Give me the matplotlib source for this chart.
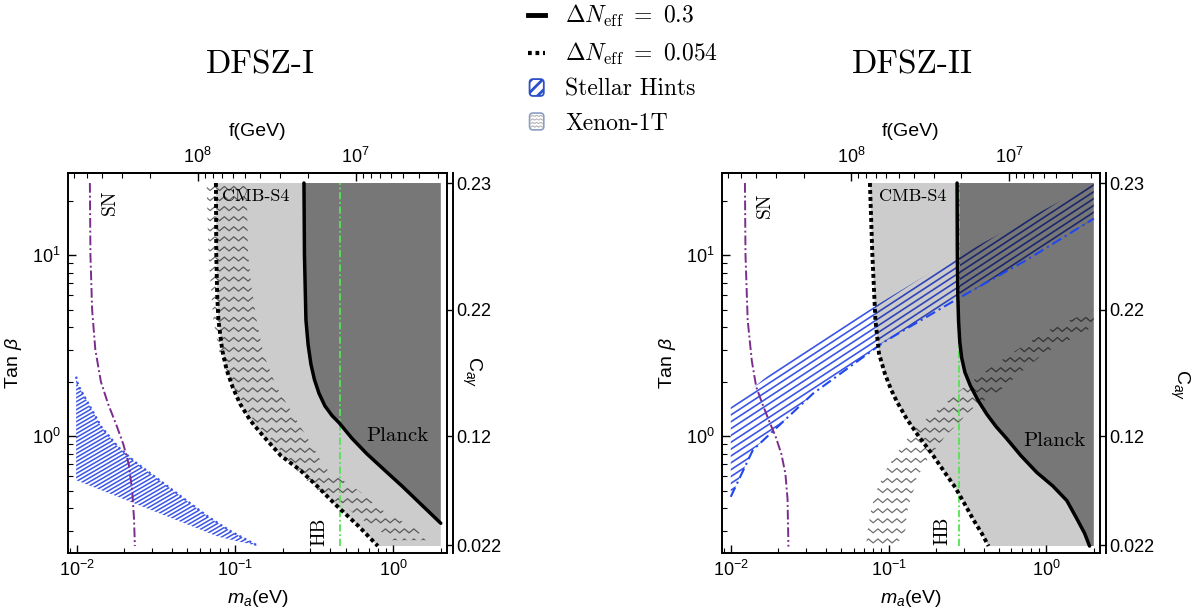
import numpy as np
import matplotlib
matplotlib.use('Agg')
import matplotlib.pyplot as plt
from matplotlib.patches import Polygon, FancyBboxPatch, Patch
from matplotlib.collections import LineCollection
from matplotlib.lines import Line2D
from matplotlib.legend_handler import HandlerBase
from matplotlib.ticker import NullLocator, FixedLocator

### STYLE ###
plt.rcParams['font.family'] = 'Liberation Sans'
plt.rcParams['mathtext.fontset'] = 'custom'
plt.rcParams['mathtext.rm'] = 'Liberation Sans'
plt.rcParams['mathtext.it'] = 'Liberation Sans:italic'
plt.rcParams['mathtext.bf'] = 'Liberation Sans:bold'
plt.rcParams['hatch.linewidth'] = 2.0

### DATA ###
# common plot range
m_range = [0.01, 2.0]
tan_range = [0.247, 25.0]
f_scale = 5.8e6          # f(GeV) = f_scale / m_a(eV)

# tick positions
m_major = [0.01, 0.1, 1.0]
tan_major = [1.0, 10.0]
f_major = [1e8, 1e7]
f_minor = [3e6, 4e6, 5e6, 6e6, 7e6, 8e6, 9e6, 2e7, 3e7, 4e7, 5e7, 6e7, 7e7, 8e7, 9e7, 2e8, 3e8, 4e8, 5e8, 6e8]

# right axis C_agamma ticks (placed at tan beta)
c_tick_tan = [0.25, 1.0, 5.0, 25.0]
c_tick_lab = ['0.022', '0.12', '0.22', '0.23']

# DFSZ-I
planck1_m = [0.273, 0.275, 0.281, 0.29, 0.302, 0.318, 0.34, 0.37, 0.41, 0.457, 0.55, 0.68, 0.88, 1.15, 1.5, 2.0]
planck1_t = [25.0, 10.0, 4.37, 3.2, 2.5, 2.05, 1.72, 1.47, 1.3, 1.18, 0.97, 0.80, 0.65, 0.525, 0.42, 0.33]
cmb1_m = [0.0758, 0.0762, 0.0772, 0.0786, 0.083, 0.0886, 0.097, 0.1076, 0.125, 0.151, 0.195, 0.258, 0.33, 0.43, 0.60, 0.80]
cmb1_t = [25.0, 10.0, 6.0, 4.37, 3.0, 2.32, 1.85, 1.51, 1.22, 1.0, 0.78, 0.649, 0.53, 0.42, 0.32, 0.247]
sn1_m = [0.0121, 0.0122, 0.0125, 0.0131, 0.0142, 0.0158, 0.0178, 0.0197, 0.0213, 0.0224, 0.023, 0.0233]
sn1_t = [25.0, 10.0, 5.0, 3.0, 2.0, 1.5, 1.15, 0.9, 0.7, 0.5, 0.35, 0.247]
hb1_m = 0.46
stellar1_m = [0.0099, 0.0102, 0.0118, 0.0143, 0.0182, 0.0233, 0.0312, 0.0459, 0.0678, 0.0952, 0.1404,
              0.0784, 0.0379, 0.0182, 0.0099]
stellar1_t = [2.13, 1.91, 1.52, 1.125, 0.873, 0.721, 0.596, 0.462, 0.358, 0.296, 0.247,
              0.278, 0.358, 0.462, 0.571]
xenon1_m = [0.0662, 0.0679, 0.073, 0.080, 0.0976, 0.1306, 0.2018, 0.23, 0.27, 0.31, 0.38, 0.51, 0.59, 0.77, 0.916, 0.95,
            1.64, 1.34, 1.0, 0.79, 0.68, 0.56, 0.44, 0.36, 0.33, 0.245, 0.183, 0.151, 0.137, 0.127, 0.121, 0.1185]
xenon1_t = [25.0, 10.2, 4.37, 2.86, 1.87, 1.225, 0.80, 0.681, 0.596, 0.525, 0.462, 0.407, 0.358, 0.316, 0.278, 0.266,
            0.266, 0.316, 0.358, 0.407, 0.462, 0.525, 0.596, 0.681, 0.80, 1.225, 1.87, 2.86, 4.37, 6.68, 10.2, 25.0]

# DFSZ-II
planck2_m = [0.272, 0.273, 0.275, 0.278, 0.283, 0.291, 0.305, 0.33, 0.37, 0.42, 0.48, 0.56, 0.69, 0.87, 1.10, 1.35, 1.58, 1.75, 1.88]
planck2_t = [25.0, 10.0, 6.0, 4.3, 3.3, 2.7, 2.25, 1.9, 1.57, 1.32, 1.13, 0.97, 0.78, 0.63, 0.53, 0.44, 0.343, 0.29, 0.247]
cmb2_m = [0.0762, 0.079, 0.0826, 0.087, 0.095, 0.104, 0.113, 0.13, 0.155, 0.19, 0.23, 0.265, 0.30, 0.345, 0.39, 0.43]
cmb2_t = [25.0, 10.0, 4.37, 2.86, 2.2, 1.8, 1.55, 1.25, 1.0, 0.79, 0.62, 0.52, 0.43, 0.345, 0.29, 0.247]
sn2_m = [0.0123, 0.0124, 0.0128, 0.0136, 0.0145, 0.0159, 0.0174, 0.0192, 0.0209, 0.0222, 0.0229, 0.0232]
sn2_t = [25.0, 10.0, 4.37, 2.6, 1.87, 1.5, 1.226, 1.0, 0.80, 0.62, 0.45, 0.245]
hb2_m = 0.28
stellar2_low_m = [0.01, 0.0138, 0.0333, 0.094, 0.265, 0.748, 2.0]
stellar2_low_t = [0.462, 0.837, 1.72, 3.32, 5.64, 9.38, 15.9]
stellar2_up_m = [0.01, 0.0232, 0.0689, 0.239, 2.0]
stellar2_up_t = [1.45, 2.69, 4.76, 9.18, 25.0]
xenon2_m = [0.0727, 0.0727, 0.0782, 0.0861, 0.0995, 0.121, 0.151, 0.218, 0.305, 0.472, 0.732, 1.19, 2.0,
            2.0, 1.31, 0.98, 0.664, 0.548, 0.451, 0.353, 0.305, 0.264, 0.228, 0.206, 0.179, 0.170, 0.151,
            0.147, 0.140, 0.1335, 0.130, 0.127, 0.105]
xenon2_t = [0.246, 0.279, 0.409, 0.528, 0.681, 0.878, 1.13, 1.46, 1.88, 2.48, 3.20, 4.13, 4.93,
            4.03, 3.29, 2.89, 2.19, 1.88, 1.66, 1.46, 1.29, 1.13, 1.0, 0.878, 0.773, 0.681, 0.600,
            0.528, 0.465, 0.409, 0.360, 0.279, 0.246]

SERIF = 'cmr10'
BLUE = '#3b55e6'


### HELPERS ###
def clip_poly(ax, xs, ys):
    p = Polygon(np.column_stack([xs, ys]), closed=True, fc='none', ec='none', transform=ax.transData)
    ax.add_patch(p)
    return p


def hatch(ax, xs, ys, angle, step, color, lw):
    # parallel lines in axes coords, clipped to the region
    clip = clip_poly(ax, xs, ys)
    slope = np.tan(np.radians(angle))
    segs = [[(0, c), (1, c + slope)] for c in np.arange(-1.2, 1.2, step)]
    lc = LineCollection(segs, colors=color, linewidths=lw, transform=ax.transAxes, zorder=1)
    lc.set_clip_path(clip)
    ax.add_collection(lc, autolim=False)


def zigzag(ax, xs, ys, color='#707070', lw=0.9):
    # wavy texture for the Xenon-1T region
    clip = clip_poly(ax, xs, ys)
    xx = np.arange(0, 1.01, 0.0125)
    bump = 0.0105 * (np.arange(len(xx)) % 2)
    segs = [np.column_stack([xx, r + bump]) for r in np.arange(0, 1, 0.0265)]
    lc = LineCollection(segs, colors=color, linewidths=lw, transform=ax.transAxes, zorder=1)
    lc.set_clip_path(clip)
    ax.add_collection(lc, autolim=False)


def setup_axes(ax):
    ax.set_xscale('log')
    ax.set_yscale('log')
    ax.set_xlim(0.0088, 2.19)
    ax.set_ylim(0.226, 28.4)
    ax.xaxis.set_major_locator(FixedLocator(m_major))
    ax.yaxis.set_major_locator(FixedLocator(tan_major))
    ax.set_axisbelow(False)
    ax.tick_params(which='both', direction='in', top=False, right=False, labelsize=13, pad=5)
    ax.tick_params(which='major', length=6, width=1.0)
    ax.tick_params(which='minor', length=3.5, width=0.8)
    for s in ax.spines.values():
        s.set_linewidth(1.4)
    ax.set_xlabel('$m_a$(eV)', fontsize=14, labelpad=6)
    ax.set_ylabel(r'Tan $\beta$', fontsize=14, labelpad=6)

    top = ax.secondary_xaxis('top', functions=(lambda m: f_scale / m, lambda f: f_scale / f))
    top.set_xticks(f_major)
    top.set_xticks(f_minor, minor=True)
    top.tick_params(which='both', direction='in', labelsize=13, pad=4)
    top.tick_params(which='major', length=6, width=1.0)
    top.tick_params(which='minor', length=3.5, width=0.8)
    top.spines['top'].set_linewidth(1.4)
    top.set_xlabel('f(GeV)', fontsize=14, labelpad=8)

    rax = ax.twinx()
    rax.set_yscale('log')
    rax.set_ylim(ax.get_ylim())
    rax.set_yticks(c_tick_tan)
    rax.set_yticklabels(c_tick_lab)
    rax.yaxis.set_minor_locator(NullLocator())
    rax.tick_params(axis='y', direction='in', length=5, width=1.0, labelsize=13, pad=3)
    for s in ['left', 'top', 'bottom']:
        rax.spines[s].set_visible(False)
    rax.spines['right'].set_position(('outward', 4))
    rax.spines['right'].set_linewidth(1.4)
    return rax


def fill_regions(ax, cm, ct, pm, pt):
    light = Polygon(np.column_stack([cm + [m_range[1], m_range[1]], ct + [tan_range[0], tan_range[1]]]),
                    closed=True, fc='black', alpha=0.2, ec='none', zorder=2)
    ax.add_patch(light)
    dm = pm + [m_range[1]] if pt[-1] > tan_range[0] else pm + [m_range[1], m_range[1]]
    dt = pt + [tan_range[1]] if pt[-1] > tan_range[0] else pt + [tan_range[0], tan_range[1]]
    dark = Polygon(np.column_stack([dm, dt]), closed=True, fc='black', alpha=0.416, ec='none', zorder=2.1)
    ax.add_patch(dark)


def boundary_lines(ax, cm, ct, pm, pt, sm, st, hb):
    ax.plot(sm, st, color='#7b2d8e', lw=1.4, ls=(0, (5, 1.5, 1, 1.5)), zorder=4)
    ax.plot([hb, hb], tan_range, color='#55e255', lw=1.3, ls=(0, (4, 1.5, 1, 1.5)), zorder=4)
    ax.plot(cm, ct, color='black', lw=2.8, ls=(0, (1, 0.8)), dash_capstyle='butt', zorder=5)
    ax.plot(pm, pt, color='black', lw=2.5, solid_capstyle='round', zorder=5)


### FIGURE ###
fig = plt.figure(figsize=(11.99, 6.13), dpi=100)
ax1 = fig.add_axes([68 / 1199, 60 / 613, 379 / 1199, 380 / 613])
ax2 = fig.add_axes([722 / 1199, 60 / 613, 378 / 1199, 380 / 613])

# DFSZ-I
setup_axes(ax1)
hatch(ax1, stellar1_m, stellar1_t, 30, 0.0105, BLUE, 1.1)
ax1.plot(stellar1_m[:11], stellar1_t[:11], color=BLUE, lw=1.6, ls=(0, (1, 1.5)), zorder=1.5)
zigzag(ax1, xenon1_m, xenon1_t)
fill_regions(ax1, cmb1_m, cmb1_t, planck1_m, planck1_t)
boundary_lines(ax1, cmb1_m, cmb1_t, planck1_m, planck1_t, sn1_m, sn1_t, hb1_m)
ax1.text(0.0825, 21, 'CMB-S4', family=SERIF, fontsize=13, ha='left', va='center', zorder=6)
ax1.text(1.06, 1.0, 'Planck', family=SERIF, fontsize=15, ha='center', va='center', zorder=6)
ax1.text(0.0163, 19.7, 'SN', family=SERIF, fontsize=14, rotation=90, ha='center', va='center', zorder=6)
ax1.text(0.341, 0.296, 'HB', family=SERIF, fontsize=14, rotation=90, ha='center', va='center', zorder=6)

# DFSZ-II
setup_axes(ax2)
st2_m = stellar2_up_m + stellar2_low_m[::-1]
st2_t = stellar2_up_t + stellar2_low_t[::-1]
hatch(ax2, st2_m, st2_t, 33, 0.018, BLUE, 1.2)
ax2.plot(stellar2_low_m, stellar2_low_t, color='#2147f0', lw=1.5, ls=(0, (5, 2, 1, 2)), zorder=4)
zigzag(ax2, xenon2_m, xenon2_t)
fill_regions(ax2, cmb2_m, cmb2_t, planck2_m, planck2_t)
boundary_lines(ax2, cmb2_m, cmb2_t, planck2_m, planck2_t, sn2_m, sn2_t, hb2_m)
ax2.text(0.0866, 21, 'CMB-S4', family=SERIF, fontsize=13, ha='left', va='center', zorder=6)
ax2.text(1.13, 0.94, 'Planck', family=SERIF, fontsize=15, ha='center', va='center', zorder=6)
ax2.text(0.0165, 18.8, 'SN', family=SERIF, fontsize=14, rotation=90, ha='center', va='center', zorder=6)
ax2.text(0.221, 0.30, 'HB', family=SERIF, fontsize=14, rotation=90, ha='center', va='center', zorder=6)

# titles and right labels
fig.text(260 / 1199, 1 - 65 / 613, 'DFSZ-I', family=SERIF, fontsize=24, ha='center', va='center')
fig.text(912 / 1199, 1 - 65 / 613, 'DFSZ-II', family=SERIF, fontsize=24, ha='center', va='center')
fig.text(472 / 1199, 1 - 372 / 613, r'C$_{a\gamma}$', fontsize=14, rotation=-90, ha='center', va='center')
fig.text(1180 / 1199, 1 - 385 / 613, r'C$_{a\gamma}$', fontsize=14, rotation=-90, ha='center', va='center')


### LEGEND ###
class HatchBox(HandlerBase):
    def create_artists(self, legend, orig_handle, xdescent, ydescent, width, height, fontsize, trans):
        box = FancyBboxPatch((-xdescent + 1, -ydescent), width - 2, height,
                             boxstyle='round,pad=0,rounding_size=2.5', fc='white',
                             ec='#2b4fc9', lw=1.3, hatch='///', transform=trans)
        return [box]


class WavyBox(HandlerBase):
    def create_artists(self, legend, orig_handle, xdescent, ydescent, width, height, fontsize, trans):
        x0, y0, w = -xdescent + 1, -ydescent, width - 2
        box = FancyBboxPatch((x0, y0), w, height, boxstyle='round,pad=0,rounding_size=2.5',
                             fc='white', ec='#8c9cc4', lw=1.2, transform=trans)
        arts = [box]
        xx = x0 + w * np.linspace(0.08, 0.92, 7)
        for k in range(4):
            yy = y0 + height * (0.16 + 0.21 * k) + height * 0.08 * (np.arange(7) % 2)
            arts.append(Line2D(xx, yy, color='#b5b5b5', lw=0.8, transform=trans))
        return arts


h_solid = Line2D([], [], color='black', lw=3.5)
h_dot = Line2D([], [], color='black', lw=3.0, ls=(0, (0.9, 0.9)), dash_capstyle='butt')
h_stellar = Patch()
h_xenon = Patch()
leg = fig.legend([h_solid, h_dot, h_stellar, h_xenon],
                 [r'$\Delta N_{\rm eff}\ =\ 0.3$', r'$\Delta N_{\rm eff}\ =\ 0.054$', 'Stellar Hints', 'Xenon-1T'],
                 handler_map={h_stellar: HatchBox(), h_xenon: WavyBox()},
                 loc='upper left', bbox_to_anchor=(527 / 1199, 0.997), frameon=False,
                 prop={'family': SERIF, 'size': 17}, handlelength=0.72, handleheight=0.72,
                 handletextpad=0.85, labelspacing=0.5, borderpad=0.05, borderaxespad=0)
for t in leg.get_texts():
    t.set_math_fontfamily('cm')

fig.savefig('out.png', dpi=100)
